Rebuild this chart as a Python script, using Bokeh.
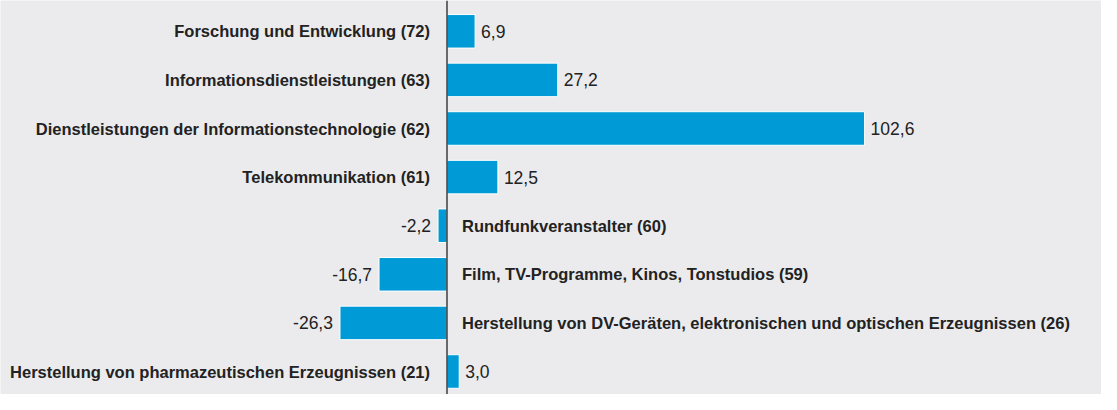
from bokeh.plotting import figure
from bokeh.models import ColumnDataSource, Range1d, Span
from bokeh.core.properties import value
from bokeh.embed import file_html
from bokeh.resources import INLINE

categories = [
    "Forschung und Entwicklung (72)",
    "Informationsdienstleistungen (63)",
    "Dienstleistungen der Informationstechnologie (62)",
    "Telekommunikation (61)",
    "Rundfunkveranstalter (60)",
    "Film, TV-Programme, Kinos, Tonstudios (59)",
    "Herstellung von DV-Geräten, elektronischen und optischen Erzeugnissen (26)",
    "Herstellung von pharmazeutischen Erzeugnissen (21)",
]
values = [6.9, 27.2, 102.6, 12.5, -2.2, -16.7, -26.3, 3.0]
value_labels = ["6,9", "27,2", "102,6", "12,5", "-2,2", "-16,7", "-26,3", "3,0"]

W, H = 1101, 394
zero_px = 446.5
ppu = 4.07
row0 = 30.8
pitch = 48.6

x0 = -zero_px / ppu
x1 = (W - zero_px) / ppu
y_top = -row0 / pitch
y_bot = (H - row0) / pitch

ys = list(range(len(categories)))
pos = [v >= 0 for v in values]
src = ColumnDataSource(dict(
    y=ys,
    v=values,
    vlab=value_labels,
    cat=categories,
    zero=[0] * len(values),
    v_align=["left" if p else "right" for p in pos],
    v_off=[6 if p else -7 for p in pos],
    c_align=["right" if p else "left" for p in pos],
    c_off=[-17 if p else 15 for p in pos],
))

p = figure(width=W, height=H, output_backend="svg", toolbar_location=None,
           x_range=Range1d(x0, x1), y_range=Range1d(y_bot, y_top),
           min_border=0, background_fill_color="#ebebee",
           border_fill_color="#ebebee", outline_line_color=None)
p.axis.visible = False
p.grid.visible = False

p.hbar(y="y", left="zero", right="v", height=0.69, source=src,
       fill_color="#009bd6", line_color="white", line_width=1)

p.add_layout(Span(location=0, dimension="height", line_color="#222222", line_width=1.3))

p.text(x="v", y="y", text="vlab", x_offset="v_off", text_align="v_align",
       text_baseline="middle", text_font=value("Liberation Sans"),
       text_font_size="17.5px", text_color="#222222", source=src)
p.text(x="zero", y="y", text="cat", x_offset="c_off", text_align="c_align",
       text_baseline="middle", text_font=value("Liberation Sans"),
       text_font_size="16.5px", text_font_style="bold", text_color="#222222", source=src)

open("out.html", "w").write(file_html(p, INLINE))
